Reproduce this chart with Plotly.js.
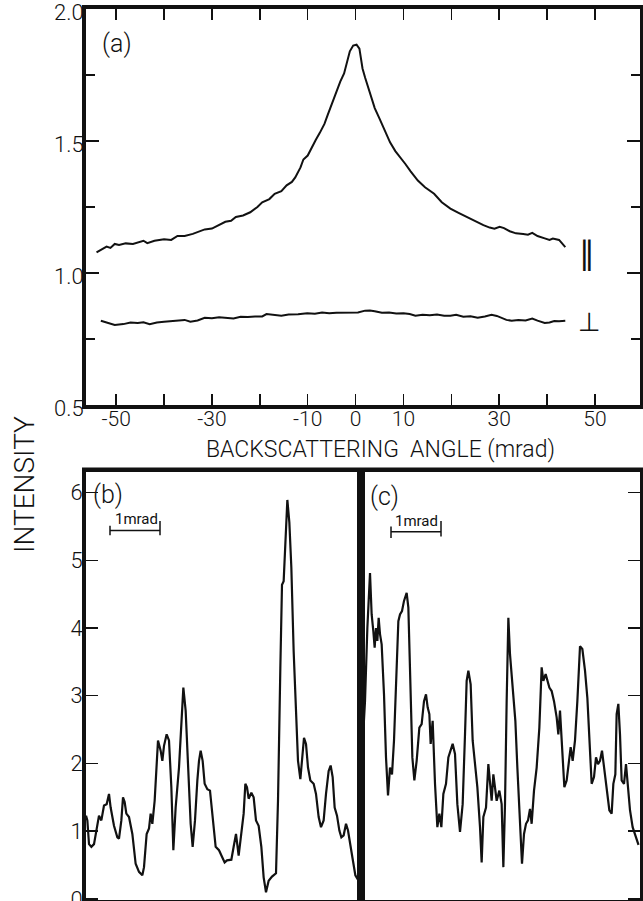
<!DOCTYPE html>
<html>
<head>
<meta charset="utf-8">
<script src="https://cdn.plot.ly/plotly-3.0.1.min.js"></script>
<style>
  html, body { margin: 0; padding: 0; background: #fff; }
  #chart { width: 643px; height: 901px; }
</style>
</head>
<body>
<div id="chart"></div>
<script>
// ---------- Panel (a): backscattering angle (mrad) vs intensity ----------
const parAngle = [-54.1,-53.0,-52.0,-51.2,-50.3,-49.4,-48.0,-46.5,-45.0,-44.3,-43.5,-42.0,-40.0,-38.5,-37.2,-35.7,-34.0,-32.5,-31.5,-30.0,-28.5,-27.2,-26.0,-25.0,-23.5,-22.0,-20.5,-19.5,-18.0,-16.9,-15.5,-14.4,-13.3,-12.6,-11.5,-10.9,-10.0,-9.2,-8.3,-7.5,-6.5,-5.8,-5.0,-4.1,-3.2,-2.4,-1.8,-1.2,-0.5,0.2,0.8,1.45,2.0,2.7,3.3,4.0,5.0,6.2,7.2,8.3,9.3,10.4,11.5,13.0,14.5,16.4,18.0,19.8,21.5,23.2,25.0,26.7,28.0,29.0,30.1,31.0,32.2,33.5,35.0,36.0,36.9,38.0,39.5,40.5,41.2,42.5,43.8];
const parInt = [1.078,1.090,1.100,1.095,1.110,1.106,1.112,1.110,1.118,1.122,1.113,1.122,1.128,1.125,1.140,1.140,1.148,1.158,1.165,1.168,1.182,1.194,1.198,1.212,1.218,1.230,1.250,1.268,1.280,1.300,1.310,1.332,1.345,1.362,1.400,1.430,1.445,1.475,1.505,1.530,1.565,1.600,1.640,1.688,1.725,1.756,1.800,1.840,1.862,1.865,1.850,1.775,1.740,1.700,1.660,1.625,1.585,1.538,1.495,1.462,1.440,1.413,1.385,1.350,1.325,1.300,1.268,1.244,1.228,1.212,1.195,1.181,1.172,1.168,1.175,1.170,1.158,1.150,1.148,1.145,1.152,1.140,1.131,1.125,1.130,1.125,1.098];

const perpAngle = [-53.2,-52.0,-50.3,-48.5,-47.0,-45.5,-44.3,-43.0,-41.5,-40.0,-38.0,-36.5,-35.7,-34.5,-33.0,-31.5,-30.0,-28.5,-27.2,-25.5,-24.0,-22.5,-21.0,-19.5,-18.6,-17.0,-15.5,-14.0,-12.0,-10.1,-8.5,-7.0,-5.5,-4.0,-2.5,-1.0,0.5,2.0,3.0,4.0,5.5,7.0,8.5,10.0,11.3,12.5,14.0,15.5,17.0,18.5,19.8,21.0,22.5,24.0,25.5,27.0,28.4,29.5,30.5,31.5,32.6,34.0,35.5,36.9,38.0,39.5,40.5,41.5,42.5,43.8];
const perpInt = [0.819,0.812,0.803,0.806,0.812,0.810,0.813,0.806,0.812,0.815,0.817,0.820,0.822,0.815,0.820,0.830,0.828,0.832,0.831,0.827,0.834,0.833,0.835,0.835,0.844,0.842,0.838,0.842,0.843,0.847,0.845,0.850,0.847,0.849,0.850,0.851,0.850,0.857,0.858,0.855,0.849,0.850,0.846,0.847,0.844,0.838,0.841,0.840,0.842,0.838,0.838,0.841,0.834,0.836,0.830,0.835,0.841,0.837,0.830,0.822,0.819,0.822,0.820,0.827,0.819,0.810,0.812,0.818,0.817,0.819];

const aTickVals = [-50,-40,-30,-20,-10,0,10,20,30,40,50];
const aTickText = ['-50','','-30','','-10','0','10','','30','','50'];
const aYTickVals = [0.5,1.0,1.5,2.0];
const aYTickText = ['0.5','1.0','1.5','2.0'];

// ---------- Panel (b): angle (mrad) vs intensity ----------
const bAngle = [0.02,0.047,0.08,0.127,0.18,0.233,0.28,0.327,0.38,0.433,0.48,0.513,0.58,0.647,0.68,0.727,0.76,0.793,0.827,0.88,0.947,1.013,1.08,1.147,1.18,1.233,1.28,1.313,1.347,1.393,1.433,1.46,1.513,1.547,1.58,1.633,1.68,1.727,1.767,1.813,1.88,1.927,1.967,2.013,2.06,2.113,2.153,2.2,2.247,2.28,2.313,2.353,2.393,2.447,2.5,2.547,2.613,2.68,2.74,2.793,2.84,2.927,2.973,3.02,3.073,3.127,3.173,3.207,3.24,3.273,3.327,3.373,3.42,3.473,3.527,3.573,3.62,3.673,3.74,3.82,3.86,3.907,3.94,3.973,4.007,4.047,4.087,4.127,4.173,4.22,4.26,4.307,4.34,4.38,4.42,4.46,4.507,4.573,4.62,4.673,4.72,4.773,4.82,4.873,4.913,4.953,4.993,5.04,5.087,5.127,5.173,5.22,5.26,5.307,5.353,5.407,5.447,5.473,5.51];
const bInt = [1.23,1.16,0.81,0.77,0.81,1.06,1.23,1.16,1.38,1.40,1.55,1.35,1.08,0.91,0.89,1.16,1.50,1.43,1.26,1.21,0.96,0.52,0.40,0.35,0.47,0.96,1.04,1.26,1.11,1.45,1.99,2.34,2.19,2.04,2.26,2.43,2.34,1.65,0.72,1.35,1.94,2.63,3.12,2.78,2.04,1.11,0.77,1.16,1.75,2.04,2.19,2.04,1.70,1.62,1.60,1.21,0.77,0.72,0.62,0.54,0.57,0.58,0.77,0.96,0.64,0.96,1.26,1.70,1.65,1.48,1.57,1.50,1.16,1.08,0.77,0.32,0.10,0.27,0.33,0.38,1.45,3.42,4.64,4.69,5.38,5.89,5.56,4.89,3.66,2.83,2.04,1.77,2.04,2.38,2.29,1.94,1.75,1.70,1.55,1.21,1.06,1.16,1.55,1.89,1.97,1.80,1.35,1.23,1.01,0.91,0.94,1.11,1.01,0.77,0.59,0.35,0.30,0.32,0.25];

// ---------- Panel (c): angle (mrad) vs intensity ----------
const cAngle = [0.0,0.013,0.06,0.107,0.16,0.193,0.227,0.253,0.28,0.307,0.333,0.36,0.393,0.44,0.48,0.52,0.56,0.6,0.64,0.68,0.727,0.76,0.8,0.84,0.893,0.927,0.96,1.007,1.047,1.093,1.147,1.193,1.24,1.28,1.313,1.347,1.373,1.413,1.46,1.507,1.547,1.587,1.627,1.68,1.727,1.773,1.813,1.86,1.907,1.96,2.013,2.06,2.093,2.127,2.173,2.213,2.26,2.307,2.36,2.393,2.427,2.48,2.527,2.56,2.593,2.627,2.66,2.693,2.747,2.793,2.827,2.86,2.893,2.927,2.96,2.993,3.027,3.067,3.107,3.147,3.2,3.24,3.28,3.32,3.36,3.393,3.44,3.493,3.547,3.593,3.627,3.673,3.707,3.747,3.793,3.84,3.893,3.927,3.96,4.0,4.047,4.093,4.147,4.173,4.213,4.26,4.307,4.36,4.407,4.46,4.507,4.547,4.593,4.64,4.68,4.72,4.76,4.8,4.84,4.893,4.947,4.993,5.027,5.067,5.093,5.127,5.16,5.193,5.24,5.28,5.313,5.36,5.413,5.46,5.493,5.53];
const cInt = [1.50,2.29,2.92,4.00,4.81,4.20,3.95,3.71,4.00,3.81,4.15,3.91,3.76,3.02,2.09,1.53,1.94,1.84,2.34,3.22,4.10,4.20,4.25,4.40,4.52,4.30,3.32,2.09,1.75,2.04,2.53,2.58,2.92,3.02,2.83,2.73,2.29,2.63,1.70,1.06,1.26,1.06,1.55,1.70,2.09,2.19,2.29,2.14,1.40,0.99,1.40,2.43,3.22,3.37,3.17,2.34,2.04,1.65,1.06,0.54,1.21,1.35,1.99,1.70,1.45,1.84,1.65,1.45,1.60,1.40,0.47,1.40,2.92,4.15,3.61,3.32,3.02,2.63,1.94,1.26,0.52,0.96,1.11,1.16,1.33,1.11,1.60,1.94,2.53,3.42,3.22,3.32,3.22,3.12,3.07,2.92,2.68,2.43,2.78,2.19,1.65,1.75,2.04,2.24,2.04,2.34,2.92,3.73,3.69,3.37,2.97,2.34,1.70,1.80,2.09,1.99,2.04,2.19,1.94,1.60,1.31,1.26,1.70,1.84,2.73,2.88,2.43,1.75,1.70,1.99,1.70,1.31,1.06,0.96,0.86,0.80];

const bcYTickVals = [0,1,2,3,4,5,6];
const bcYTickText = ['0','1','2','3','4','5','6'];

// ---------- Styling ----------
const FONT = 'Roboto, "Liberation Sans", sans-serif';
const ink = '#111';
const PW = 554, PH = 891;           // plot-area size in px (643-86-3, 901-9-1)
const topDom = [0.5556, 1], botDom = [0, 0.4809], splitX = 0.4964;
const dx = 2 / PW, dy = 2 / PH;     // half frame width in paper units

const traces = [
  {x: parAngle, y: parInt, type: 'scatter', mode: 'lines', line: {color: ink, width: 2}, xaxis: 'x', yaxis: 'y', hoverinfo: 'skip'},
  {x: perpAngle, y: perpInt, type: 'scatter', mode: 'lines', line: {color: ink, width: 2}, xaxis: 'x', yaxis: 'y', hoverinfo: 'skip'},
  {x: bAngle, y: bInt, type: 'scatter', mode: 'lines', line: {color: ink, width: 2.2}, xaxis: 'x2', yaxis: 'y2', hoverinfo: 'skip'},
  {x: cAngle, y: cInt, type: 'scatter', mode: 'lines', line: {color: ink, width: 2.2}, xaxis: 'x3', yaxis: 'y3', hoverinfo: 'skip'}
];

const frame = {showline: true, linecolor: ink, linewidth: 4, showgrid: false, zeroline: false, fixedrange: true};
const frameLine = {color: ink, width: 4};

const layout = {
  width: 643, height: 901,
  margin: {l: 86, r: 3, t: 9, b: 1, autoexpand: false},
  showlegend: false,
  xaxis: Object.assign({}, frame, {
    domain: [0, 1], anchor: 'y', range: [-56.3, 59.4],
    tickmode: 'array', tickvals: aTickVals, ticktext: aTickText,
    ticks: 'inside', ticklen: 11, tickwidth: 1.5, tickcolor: ink, mirror: 'ticks',
    ticklabelstandoff: -8,
    tickfont: {family: FONT, size: 21, color: ink, weight: 300}
  }),
  yaxis: Object.assign({}, frame, {
    domain: topDom, anchor: 'x', range: [0.4995, 2.0005], ticklabeloverflow: 'allow',
    tickmode: 'array', tickvals: aYTickVals, ticktext: aYTickText,
    ticks: 'inside', ticklen: 13, tickwidth: 1.5, tickcolor: ink, mirror: 'ticks',
    ticklabelstandoff: -6, ticklabelshift: 3,
    minor: {dtick: 0.25, tick0: 0.5, ticks: 'inside', ticklen: 9, tickwidth: 1.5, tickcolor: ink, showgrid: false},
    tickfont: {family: FONT, size: 22, color: ink, weight: 300}
  }),
  xaxis2: Object.assign({}, frame, {
    domain: [0, splitX], anchor: 'y2', range: [0.02, 5.52],
    showticklabels: false, ticks: '', mirror: true
  }),
  yaxis2: Object.assign({}, frame, {
    domain: botDom, anchor: 'x2', range: [-0.015, 6.31], ticklabeloverflow: 'allow',
    tickmode: 'array', tickvals: bcYTickVals, ticktext: bcYTickText,
    ticks: 'inside', ticklen: 12, tickwidth: 1.5, tickcolor: ink, mirror: true,
    ticklabelstandoff: -5,
    tickfont: {family: FONT, size: 22, color: ink, weight: 300}
  }),
  xaxis3: Object.assign({}, frame, {
    domain: [splitX, 1], anchor: 'y3', range: [-0.02, 5.56],
    showticklabels: false, ticks: '', mirror: true
  }),
  yaxis3: Object.assign({}, frame, {
    domain: botDom, anchor: 'x3', range: [-0.015, 6.31], side: 'right',
    tickmode: 'array', tickvals: bcYTickVals,
    showticklabels: false,
    ticks: 'inside', ticklen: 12, tickwidth: 1.5, tickcolor: ink, mirror: true
  }),
  shapes: [
    // frames
    {type: 'rect', xref: 'paper', yref: 'paper', x0: -dx, x1: 1 + dx, y0: topDom[0] - dy, y1: topDom[1] + dy, line: frameLine, layer: 'above'},
    {type: 'rect', xref: 'paper', yref: 'paper', x0: -dx, x1: 1 + dx, y0: botDom[0] - dy, y1: botDom[1] + dy, line: frameLine, layer: 'above'},
    {type: 'line', xref: 'paper', yref: 'paper', x0: splitX, x1: splitX, y0: botDom[0], y1: botDom[1], line: {color: ink, width: 4.5}, layer: 'above'},
    // 1 mrad scale bar in (b)
    {type: 'line', xref: 'x2', yref: 'y2', x0: 0.5, x1: 1.5, y0: 5.44, y1: 5.44, line: {color: ink, width: 1.5}},
    {type: 'line', xref: 'x2', yref: 'y2', x0: 0.5, x1: 0.5, y0: 5.37, y1: 5.51, line: {color: ink, width: 1.5}},
    {type: 'line', xref: 'x2', yref: 'y2', x0: 1.5, x1: 1.5, y0: 5.37, y1: 5.58, line: {color: ink, width: 1.5}},
    // 1 mrad scale bar in (c)
    {type: 'line', xref: 'x3', yref: 'y3', x0: 0.58, x1: 1.58, y0: 5.42, y1: 5.42, line: {color: ink, width: 1.5}},
    {type: 'line', xref: 'x3', yref: 'y3', x0: 0.58, x1: 0.58, y0: 5.33, y1: 5.50, line: {color: ink, width: 1.5}},
    {type: 'line', xref: 'x3', yref: 'y3', x0: 1.58, x1: 1.58, y0: 5.35, y1: 5.58, line: {color: ink, width: 1.5}}
  ],
  annotations: [
    {text: 'BACKSCATTERING\u00a0\u00a0ANGLE (mrad)', xref: 'paper', yref: 'paper', x: (380-86)/PW, y: (900-449)/PH, xanchor: 'center', yanchor: 'middle', showarrow: false, font: {family: FONT, size: 23, color: ink, weight: 300}},
    {text: 'INTENSITY', xref: 'paper', yref: 'paper', x: (24-86)/PW, y: (900-485)/PH, xanchor: 'center', yanchor: 'middle', textangle: -90, showarrow: false, font: {family: FONT, size: 28, color: ink, weight: 300}},
    {text: '(a)', xref: 'paper', yref: 'paper', x: (117-86)/PW, y: (900-43)/PH, xanchor: 'center', yanchor: 'middle', showarrow: false, font: {family: FONT, size: 25, color: ink, weight: 300}},
    {text: '(b)', xref: 'paper', yref: 'paper', x: (108-86)/PW, y: (900-495)/PH, xanchor: 'center', yanchor: 'middle', showarrow: false, font: {family: FONT, size: 25, color: ink, weight: 300}},
    {text: '(c)', xref: 'paper', yref: 'paper', x: (384-86)/PW, y: (900-497)/PH, xanchor: 'center', yanchor: 'middle', showarrow: false, font: {family: FONT, size: 25, color: ink, weight: 300}},
    {text: '1mrad', xref: 'paper', yref: 'paper', x: (136-86)/PW, y: (900-519)/PH, xanchor: 'center', yanchor: 'middle', showarrow: false, font: {family: FONT, size: 15, color: ink}},
    {text: '1mrad', xref: 'paper', yref: 'paper', x: (416-86)/PW, y: (900-521)/PH, xanchor: 'center', yanchor: 'middle', showarrow: false, font: {family: FONT, size: 15, color: ink}},
    {text: '\u2225', xref: 'paper', yref: 'paper', x: (587-86)/PW, y: (900-253)/PH, xanchor: 'center', yanchor: 'middle', showarrow: false, font: {family: 'DejaVu Sans', size: 32, color: ink}},
    {text: '\u22A5', xref: 'paper', yref: 'paper', x: (589-86)/PW, y: (900-322)/PH, xanchor: 'center', yanchor: 'middle', showarrow: false, font: {family: 'DejaVu Sans', size: 26, color: ink}}
  ]
};

Plotly.newPlot('chart', traces, layout, {staticPlot: true, displayModeBar: false});
</script>
</body>
</html>
